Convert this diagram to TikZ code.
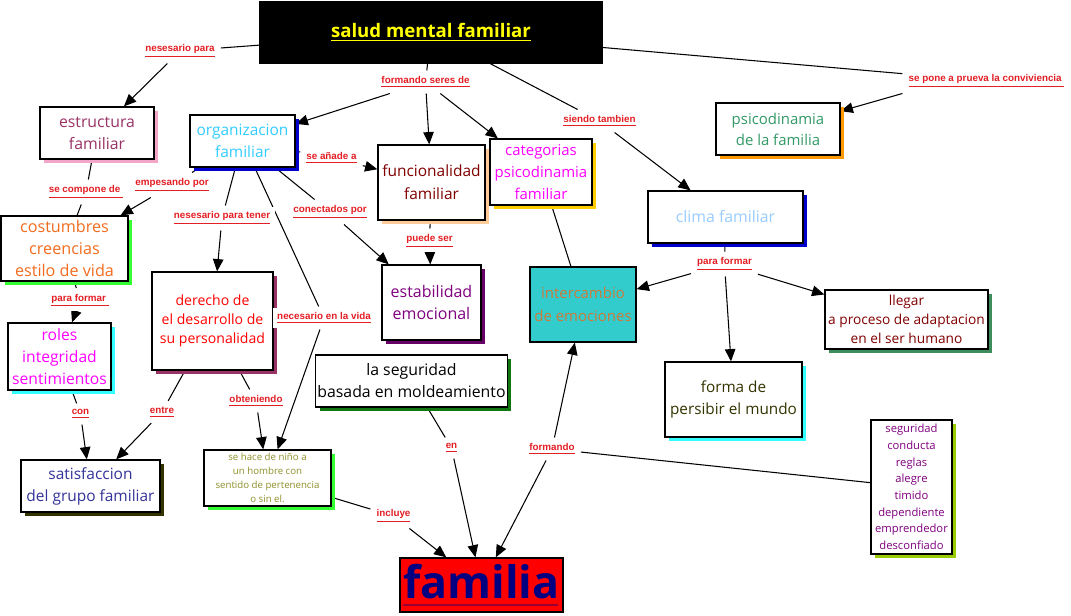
\documentclass[tikz,border=0pt]{standalone}
\usepackage{fontspec}
\setmainfont{Open Sans}
\newfontfamily\linkfont{Liberation Sans}
\usetikzlibrary{arrows.meta,backgrounds}

\definecolor{linkred}{HTML}{E31E24}
\definecolor{cPlum}{HTML}{993366}
\definecolor{cSky}{HTML}{33CCFF}
\definecolor{cMaroon}{HTML}{800000}
\definecolor{cMagenta}{HTML}{FF00FF}
\definecolor{cSea}{HTML}{339966}
\definecolor{cPale}{HTML}{99CCFF}
\definecolor{cOrange}{HTML}{F26C1F}
\definecolor{cPurple}{HTML}{800080}
\definecolor{cTeal}{HTML}{33CCCC}
\definecolor{cRust}{HTML}{CC7A3A}
\definecolor{cOlive}{HTML}{333300}
\definecolor{cNavy}{HTML}{333399}
\definecolor{cKhaki}{HTML}{8F8F2A}
\definecolor{cDarkBlue}{HTML}{000080}
\definecolor{cDarkRed}{HTML}{990033}
\definecolor{cYellow}{HTML}{FFFF00}
\definecolor{sPink}{HTML}{F4A6C8}
\definecolor{sBlue}{HTML}{0000CC}
\definecolor{sPeach}{HTML}{FFCC99}
\definecolor{sGold}{HTML}{FFCC00}
\definecolor{sAmber}{HTML}{FF9900}
\definecolor{sLime}{HTML}{33FF33}
\definecolor{sAqua}{HTML}{33FFFF}
\definecolor{sPurple}{HTML}{660066}
\definecolor{sSea}{HTML}{3D8C5C}
\definecolor{sGreen}{HTML}{117711}
\definecolor{sYellowGreen}{HTML}{99CC00}

\begin{document}
\begin{tikzpicture}[
  x=0.02cm, y=-0.02cm,
  concept/.style={
    rectangle, draw=black, line width=0.7pt, fill=white,
    align=center, inner sep=1pt,
    font=\fontsize{9}{12.5}\selectfont
  },
  boxsize/.style 2 args={minimum width=#1*0.02cm, minimum height=#2*0.02cm},
  shadowcol/.style={preaction={fill=#1, transform canvas={xshift=0.08cm, yshift=-0.08cm}}},
  link/.style={fill=white, inner sep=2.5pt, outer sep=1pt, text=linkred,
    font=\linkfont\bfseries\fontsize{5.6}{6.5}\selectfont},
  arrow/.style={-{Triangle[length=7pt, width=6pt]}, line width=0.6pt},
  plain/.style={line width=0.6pt},
]

%% Title
\node[concept, fill=black, text=cYellow, boxsize={342}{61},
  font=\bfseries\fontsize{10.6}{12}\selectfont] (salud) at (431,32.5) {\underline{salud mental familiar}};

%% Concepts
\node[concept, shadowcol=sPink, text=cPlum, boxsize={114}{52}] (estructura) at (97,133) {estructura\\familiar};
\node[concept, shadowcol=sBlue, text=cSky, boxsize={105}{52}, font=\fontsize{8.8}{12.5}\selectfont] (organizacion) at (242.5,141) {organizacion\\familiar};
\node[concept, shadowcol=sPeach, text=cMaroon, boxsize={107}{75}, font=\fontsize{8.8}{13}\selectfont] (funcionalidad) at (431.5,182.5) {funcionalidad\\familiar};
\node[concept, shadowcol=sGold, text=cMagenta, boxsize={102}{66}, font=\fontsize{8.5}{12.5}\selectfont] (categorias) at (541,172) {categorias\\psicodinamia\\familiar};
\node[concept, shadowcol=sAmber, text=cSea, boxsize={124}{52}, font=\fontsize{8.5}{12}\selectfont] (psicodinamia) at (778,129) {psicodinamia\\de la familia};
\node[concept, shadowcol=sBlue, text=cPale, boxsize={155}{52}] (clima) at (725.5,217) {clima familiar};
\node[concept, shadowcol=sLime, text=cOrange, boxsize={127}{65}, font=\fontsize{9.2}{12.5}\selectfont] (costumbres) at (64.5,248.5) {costumbres\\creencias\\estilo de vida};
\node[concept, shadowcol=sAqua, text=cMagenta, boxsize={103}{67}, font=\fontsize{8.9}{12.5}\selectfont] (roles) at (59.5,356.5) {roles\\integridad\\sentimientos};
\node[concept, shadowcol=cPlum, text=red, boxsize={121}{98}, font=\fontsize{8}{11}\selectfont] (derecho) at (212.5,321) {derecho de\\el desarrollo de\\su personalidad};
\node[concept, shadowcol=sPurple, text=cPurple, boxsize={99}{75}, font=\fontsize{9.1}{12.5}\selectfont] (estabilidad) at (431.5,302.5) {estabilidad\\emocional};
\node[concept, fill=cTeal, text=cRust, boxsize={106}{75}, font=\fontsize{8.5}{13}\selectfont] (intercambio) at (583,304.5) {intercambio\\de emociones};
\node[concept, shadowcol=sSea, text=cMaroon, boxsize={163}{59}, font=\fontsize{7.8}{11}\selectfont] (llegar) at (906.5,319.5) {llegar\\a proceso de adaptacion\\en el ser humano};
\node[concept, shadowcol=sAqua, text=cOlive, boxsize={137}{75}, font=\fontsize{8.7}{12.5}\selectfont] (forma) at (733.5,399.5) {forma de\\persibir el mundo};
\node[concept, shadowcol=sGreen, text=black, boxsize={187}{52}] (seguridad) at (411.5,381) {la seguridad\\basada en moldeamiento};
\node[concept, shadowcol=cOlive, text=cNavy, boxsize={139}{52}, font=\fontsize{8.8}{12.5}\selectfont] (satisfaccion) at (90.5,486) {satisfaccion\\del grupo familiar};
\node[concept, shadowcol=sLime, text=cKhaki, boxsize={127}{56}, font=\fontsize{5.5}{7.9}\selectfont] (nino) at (267.5,478) {se hace de niño a\\un hombre con\\sentido de pertenencia\\o sin el.};
\node[concept, shadowcol=sYellowGreen, text=cPurple, boxsize={81}{134}, font=\fontsize{6.4}{9.5}\selectfont] (rasgos) at (911.5,487) {seguridad\\conducta\\reglas\\alegre\\timido\\dependiente\\emprendedor\\desconfiado};
\node[concept, fill=red, boxsize={163}{54}, inner sep=0pt, text=cDarkBlue,
  font=\bfseries\fontsize{25.5}{27}\selectfont] (familia) at (481.5,585)
  {\makebox[0pt][l]{\color{cDarkRed}\rule[-4pt]{3.1cm}{1.1pt}}familia};

%% Linking phrases
\node[link] (lNesesario) at (180,51) {\underline{nesesario para}};
\node[link] (lFormandoSeres) at (425.5,82) {\underline{formando seres de}};
\node[link] (lSiendo) at (599.5,121) {\underline{siendo tambien}};
\node[link] (lPrueva) at (986.5,81) {\underline{se pone a prueva la conviviencia\ }};
\node[link] (lAnade) at (331.5,158) {\underline{se añade a}};
\node[link] (lEmpesando) at (172,185) {\underline{empesando por}};
\node[link] (lCompone) at (86,192) {\underline{se compone de\ }};
\node[link] (lTener) at (222,218) {\underline{nesesario para tener}};
\node[link] (lConectados) at (330,212) {\underline{conectados por}};
\node[link] (lPuede) at (429.5,241) {\underline{puede ser}};
\node[link] (lVida) at (324,318) {\underline{necesario en la vida}};
\node[link] (lClima) at (724.5,264) {\underline{para formar}};
\node[link] (lCostumbres) at (80,300.5) {\underline{para formar\ }};
\node[link] (lCon) at (80.5,414) {\underline{con}};
\node[link] (lEntre) at (162,412) {\underline{entre}};
\node[link] (lObteniendo) at (256,401) {\underline{obteniendo}};
\node[link] (lEn) at (451.5,448) {\underline{en}};
\node[link] (lFormando) at (552,449) {\underline{formando}};
\node[link] (lIncluye) at (393.5,516) {\underline{incluye}};

%% Connectors
\begin{pgfonlayer}{background}
\path[use as bounding box, fill=white] (0,0) rectangle (1071,615);
\draw[plain] (salud) -- (lNesesario);
\draw[arrow] (lNesesario) -- (estructura);
\draw[plain] (salud) -- (lFormandoSeres);
\draw[arrow] (lFormandoSeres) -- (organizacion);
\draw[arrow] (lFormandoSeres) -- (funcionalidad);
\draw[arrow] (lFormandoSeres) -- (categorias);
\draw[plain] (salud) -- (lSiendo);
\draw[arrow] (lSiendo) -- (clima);
\draw[plain] (salud) -- (lPrueva);
\draw[arrow] (lPrueva.south west) -- (psicodinamia);
\draw[plain] (organizacion) -- (lAnade);
\draw[arrow] (lAnade) -- (funcionalidad);
\draw[plain] (organizacion) -- (lEmpesando);
\draw[arrow] (lEmpesando) -- (costumbres);
\draw[plain] (estructura) -- (lCompone);
\draw[plain] (lCompone) -- (costumbres);
\draw[plain] (organizacion) -- (lTener);
\draw[arrow] (lTener) -- (derecho);
\draw[plain] (organizacion) -- (lVida);
\draw[arrow] (lVida) -- (nino);
\draw[plain] (organizacion) -- (lConectados);
\draw[arrow] (lConectados) -- (estabilidad);
\draw[plain] (funcionalidad) -- (lPuede);
\draw[arrow] (lPuede) -- (estabilidad);
\draw[plain] (categorias) -- (intercambio);
\draw[plain] (clima) -- (lClima);
\draw[arrow] (lClima) -- (intercambio);
\draw[arrow] (lClima) -- (forma);
\draw[arrow] (lClima) -- (llegar);
\draw[plain] (costumbres) -- (lCostumbres);
\draw[arrow] (lCostumbres) -- (roles);
\draw[plain] (roles) -- (lCon);
\draw[arrow] (lCon) -- (satisfaccion);
\draw[plain] (derecho) -- (lEntre);
\draw[arrow] (lEntre) -- (satisfaccion);
\draw[plain] (derecho) -- (lObteniendo);
\draw[arrow] (lObteniendo) -- (nino);
\draw[plain] (seguridad) -- (lEn);
\draw[arrow] (lEn) -- (familia);
\draw[arrow] (lFormando) -- (intercambio);
\draw[arrow] (lFormando) -- (familia);
\draw[plain] (lFormando) -- (rasgos);
\draw[plain] (nino) -- (lIncluye);
\draw[arrow] (lIncluye) -- (familia);
\end{pgfonlayer}

\end{tikzpicture}
\end{document}
